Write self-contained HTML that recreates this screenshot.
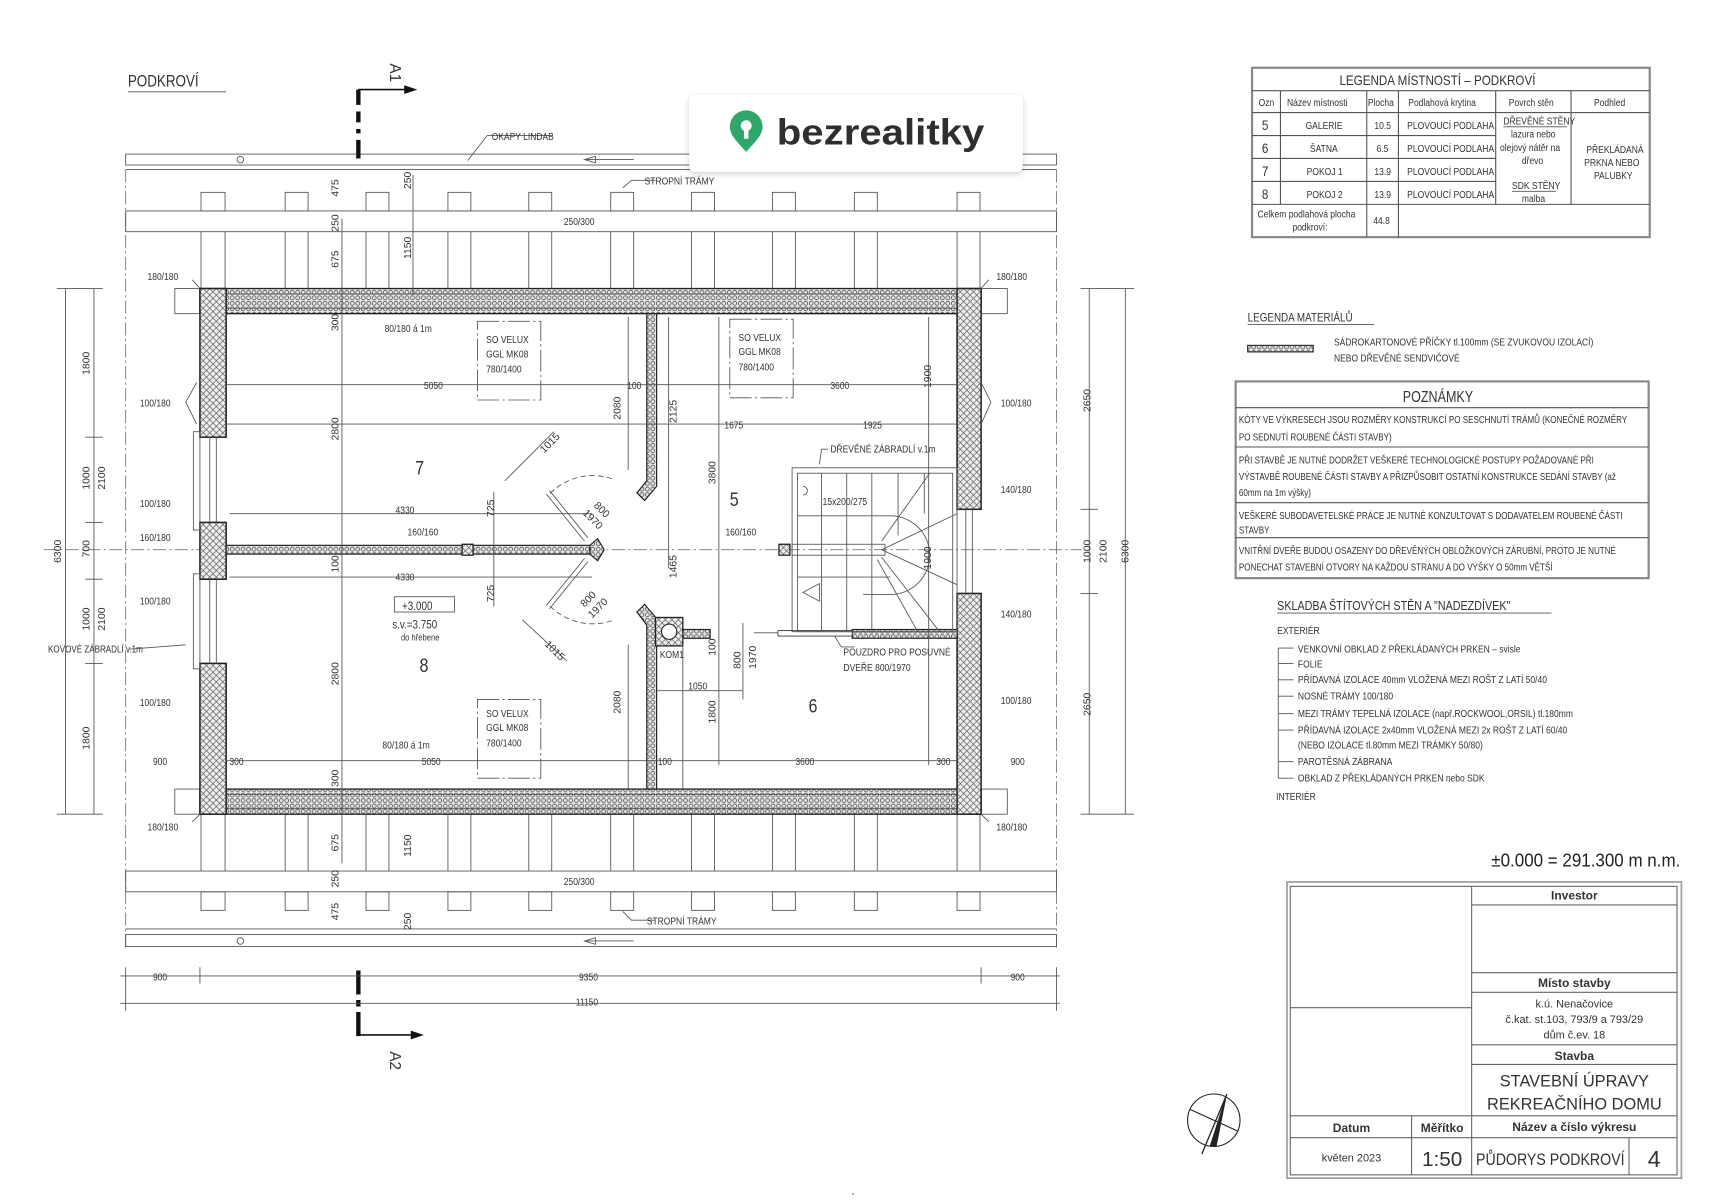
<!DOCTYPE html>
<html><head><meta charset="utf-8"><style>
html,body{margin:0;padding:0;background:#fff;width:1712px;height:1200px;overflow:hidden}
svg{display:block}
text{font-family:"Liberation Sans Narrow","Liberation Sans",sans-serif;fill:#333}
text:not([transform]):not(.w){transform-box:fill-box;transform-origin:left center;transform:scaleX(.82)}
.s{font-size:9.5px}
.m{font-size:11px}
.ln{stroke:#555;stroke-width:0.8;fill:none}
.dash{stroke:#777;stroke-width:0.8;stroke-dasharray:12 3 2 3;fill:none}
</style></head><body>
<svg width="1712" height="1200" viewBox="0 0 1567 1098" preserveAspectRatio="none" xmlns="http://www.w3.org/2000/svg">
<defs>
<pattern id="hp" width="5" height="5" patternUnits="userSpaceOnUse"><rect width="5" height="5" fill="#e6e6e6"/><circle cx="2.5" cy="2.5" r="1.8" fill="none" stroke="#444" stroke-width="0.7"/></pattern>
<pattern id="hx" width="6" height="6" patternUnits="userSpaceOnUse"><rect width="6" height="6" fill="#eee"/><path d="M0 0L6 6M6 0L0 6" stroke="#555" stroke-width="0.6"/></pattern>
<filter id="sh" x="-10%" y="-20%" width="120%" height="150%"><feDropShadow dx="0" dy="2" stdDeviation="3" flood-color="#000" flood-opacity="0.18"/></filter>
</defs>
<rect width="1567" height="1098" fill="#fff"/>

<text x="117" y="79" style="font-size:15px">PODKROVÍ</text>
<line x1="117" y1="84" x2="207" y2="84" class="ln"/>

<rect x="115" y="141" width="852" height="10" class="ln"/>
<circle cx="220" cy="146" r="3" class="ln"/>
<path d="M535 146H580M535 146l10 -3v6z" class="ln"/>
<path d="M428 147L446 124H505" class="ln"/>
<text x="450" y="128" class="s">OKAPY LINDAB</text>
<line x1="115" y1="155" x2="967" y2="155" class="ln"/>
<line x1="115" y1="155" x2="115" y2="870" class="dash"/>
<line x1="967" y1="155" x2="967" y2="870" class="dash"/>
<g class="ln">
<rect x="184" y="176" width="22" height="17"/><rect x="261" y="176" width="21" height="17"/><rect x="335" y="176" width="21" height="17"/><rect x="410" y="176" width="21" height="17"/><rect x="484" y="176" width="21" height="17"/><rect x="559" y="176" width="21" height="17"/><rect x="633" y="176" width="21" height="17"/><rect x="707" y="176" width="21" height="17"/><rect x="782" y="176" width="21" height="17"/><rect x="876" y="176" width="21" height="17"/>
<rect x="115" y="193" width="852" height="19"/>
<path d="M184 212V264M206 212V264M261 212V264M282 212V264M335 212V264M356 212V264M410 212V264M431 212V264M484 212V264M505 212V264M559 212V264M580 212V264M633 212V264M654 212V264M707 212V264M728 212V264M782 212V264M803 212V264M876 212V264M897 212V264"/>
<path d="M184 745V797M206 745V797M261 745V797M282 745V797M335 745V797M356 745V797M410 745V797M431 745V797M484 745V797M505 745V797M559 745V797M580 745V797M633 745V797M654 745V797M707 745V797M728 745V797M782 745V797M803 745V797M876 745V797M897 745V797"/>
<rect x="115" y="797" width="852" height="19"/>
<rect x="184" y="816" width="22" height="17"/><rect x="261" y="816" width="21" height="17"/><rect x="335" y="816" width="21" height="17"/><rect x="410" y="816" width="21" height="17"/><rect x="484" y="816" width="21" height="17"/><rect x="559" y="816" width="21" height="17"/><rect x="633" y="816" width="21" height="17"/><rect x="707" y="816" width="21" height="17"/><rect x="782" y="816" width="21" height="17"/><rect x="876" y="816" width="21" height="17"/>
<line x1="115" y1="850" x2="967" y2="850"/>
<rect x="115" y="855" width="852" height="11"/>
<circle cx="220" cy="861" r="3"/>
<path d="M535 861H580M535 861l10 -3v6z"/>
<path d="M570 172L578 165H600M570 834L578 842H600"/>
</g>
<text x="516" y="206" class="s">250/300</text>
<text x="516" y="810" class="s">250/300</text>
<text x="590" y="169" class="s">STROPNÍ TRÁMY</text>
<text x="592" y="846" class="s">STROPNÍ TRÁMY</text>

<path d="M328 82V96M328 102V112M328 118V122M328 128V145" stroke="#111" stroke-width="4"/>
<path d="M328 82H372" stroke="#111" stroke-width="1.5"/><path d="M382 82l-12 -4v8z" fill="#111"/>
<text x="357" y="58" transform="rotate(90 357 58)" style="font-size:14px">A1</text>
<path d="M328 888V910M328 915V921M328 926V948" stroke="#111" stroke-width="4"/>
<path d="M328 947H378" stroke="#111" stroke-width="1.5"/><path d="M388 947l-12 -4v8z" fill="#111"/>
<text x="357" y="962" transform="rotate(90 357 962)" style="font-size:14px">A2</text>

<line x1="40" y1="503" x2="990" y2="503" class="dash"/>

<rect x="160" y="264" width="23" height="23" class="ln" fill="#fff"/>
<rect x="898" y="264" width="24" height="23" class="ln" fill="#fff"/>
<rect x="160" y="722" width="23" height="23" class="ln" fill="#fff"/>
<rect x="898" y="722" width="24" height="23" class="ln" fill="#fff"/>
<rect x="183" y="264" width="715" height="23" fill="url(#hp)" stroke="#222" stroke-width="1.2"/>
<rect x="183" y="722" width="715" height="23" fill="url(#hp)" stroke="#222" stroke-width="1.2"/>
<line x1="183" y1="269" x2="898" y2="269" stroke="#333" stroke-width="0.6"/><line x1="183" y1="282" x2="898" y2="282" stroke="#333" stroke-width="0.6"/>
<line x1="183" y1="727" x2="898" y2="727" stroke="#333" stroke-width="0.6"/><line x1="183" y1="740" x2="898" y2="740" stroke="#333" stroke-width="0.6"/>
<g fill="url(#hx)" stroke="#222" stroke-width="1.4">
<rect x="183" y="264" width="24" height="136"/><rect x="183" y="478" width="24" height="52"/><rect x="183" y="607" width="24" height="138"/>
<rect x="876" y="264" width="22" height="202"/><rect x="876" y="543" width="22" height="202"/>
</g>
<g class="ln">
<rect x="177" y="395" width="6" height="90"/><rect x="177" y="525" width="6" height="87"/>
<line x1="192" y1="400" x2="192" y2="478"/><line x1="198" y1="400" x2="198" y2="478"/>
<line x1="192" y1="530" x2="192" y2="607"/><line x1="198" y1="530" x2="198" y2="607"/>
<line x1="884" y1="466" x2="884" y2="543"/><line x1="890" y1="466" x2="890" y2="543"/>
</g>
<g fill="url(#hp)" stroke="#222" stroke-width="1.1">
<rect x="207" y="499" width="333" height="8"/>
<path d="M592 287H601V445L590 458L583 451L592 440Z"/>
<path d="M583 560L590 553L601 566V722H592V572Z"/>
<rect x="625" y="576" width="25" height="8"/>
<rect x="780" y="576" width="96" height="8"/>
<path d="M540 499L547 493L553 503L547 513L540 507Z"/>
</g>
<rect x="600" y="565" width="25" height="26" fill="url(#hx)" stroke="#222" stroke-width="1.2"/>
<circle cx="612.5" cy="578" r="7" fill="#fff" stroke="#222"/>
<rect x="423" y="498" width="10" height="10" fill="url(#hx)" stroke="#222" stroke-width="1.2"/>
<rect x="713" y="498" width="10" height="10" fill="url(#hx)" stroke="#222" stroke-width="1.2"/>
<rect x="712" y="577" width="68" height="5" fill="#fff" stroke="#333" stroke-width="0.8"/>
<line x1="690" y1="579" x2="712" y2="579" class="ln"/>
<g class="ln" stroke-dasharray="5 3">
<path d="M560 438 A55 55 0 0 0 503 452"/>
<path d="M560 568 A55 55 0 0 1 503 554"/>
</g>
<g class="ln">
<path d="M503 449L538 492M500 452L535 495"/>
<path d="M503 557L538 514M500 554L535 511"/>
</g>
<g class="ln">
<rect x="725" y="428" width="151" height="150"/>
<rect x="730" y="433" width="142" height="145"/>
<path d="M752 433V578M775 433V578M798 433V578M822 433V490M846 433V470"/>
<path d="M730 472H815M730 528H815"/>
<path d="M815 472A36 36 0 0 1 815 544H790"/>
<path d="M807 495L851 433M807 503L876 470M807 503L876 535M807 510L860 578M803 512L840 578"/>
<rect x="725" y="498" width="85" height="10"/>
<path d="M735 542L750 534V550Z"/>
<path d="M735 445A4 4 0 0 1 735 453"/>
</g>
<path d="M750 425L752 411H758" class="ln"/>
<text x="760" y="414" class="s">DŘEVĚNÉ ZÁBRADLÍ v.1m</text>
<text x="753" y="462" class="s">15x200/275</text>
<path d="M764 582L770 592H782" class="ln"/>
<text x="772" y="600" class="s">POUZDRO PRO POSUVNÉ</text>
<text x="772" y="614" class="s">DVEŘE 800/1970</text>

<g class="ln" stroke-dasharray="20 3 2 3">
<rect x="437" y="294" width="58" height="72"/>
<rect x="668" y="292" width="58" height="72"/>
<rect x="437" y="640" width="58" height="72"/>
</g>
<text x="445" y="314" class="s">SO VELUX</text><text x="445" y="327" class="s">GGL MK08</text><text x="445" y="341" class="s">780/1400</text>
<text x="676" y="312" class="s">SO VELUX</text><text x="676" y="325" class="s">GGL MK08</text><text x="676" y="339" class="s">780/1400</text>
<text x="445" y="656" class="s">SO VELUX</text><text x="445" y="669" class="s">GGL MK08</text><text x="445" y="683" class="s">780/1400</text>

<g class="ln">
<path d="M207 352H876M207 388H876M210 470H542M210 528H542M207 696H876M601 632H680"/>
<path d="M313 200V790M378 160V270M452 450V555M612 290V520M658 290V700M850 290V700M680 570V640M625 590V722M575 290V430M575 590V722"/>
<path d="M462 440L507 395M478 567L519 605"/>
</g>
<text x="380" y="434" style="font-size:18px">7</text>
<text x="384" y="615" style="font-size:18px">8</text>
<text x="668" y="463" style="font-size:18px">5</text>
<text x="740" y="652" style="font-size:18px">6</text>
<rect x="361" y="546" width="55" height="14" class="ln"/>
<text x="368" y="558" class="m">+3.000</text>
<text x="359" y="575" class="m">s.v.=3.750</text>
<text x="367" y="586" style="font-size:8.5px">do hřebene</text>
<text x="604" y="602" class="s">KOM1</text>
<text x="44" y="597" style="font-size:9px">KOVOVÉ ZÁBRADLÍ v.1m</text>
<line x1="118" y1="594" x2="170" y2="590" class="ln"/>
<g class="s">
<text x="388" y="356">5050</text><text x="760" y="356">3600</text><text x="574" y="356">100</text>
<text x="663" y="392">1675</text><text x="790" y="392">1925</text>
<text x="362" y="470">4330</text><text x="362" y="531">4330</text>
<text x="386" y="700">5050</text><text x="728" y="700">3600</text><text x="602" y="700">100</text>
<text x="140" y="700">900</text><text x="210" y="700">300</text><text x="857" y="700">300</text><text x="925" y="700">900</text>
<text x="630" y="631">1050</text>
<text x="373" y="490">160/160</text><text x="664" y="490">160/160</text>
<text x="352" y="304">80/180 á 1m</text><text x="350" y="685">80/180 á 1m</text>
<text x="135" y="256">180/180</text><text x="912" y="256">180/180</text>
<text x="135" y="760">180/180</text><text x="912" y="760">180/180</text>
<text x="128" y="372">100/180</text><text x="916" y="372">100/180</text>
<text x="128" y="464">100/180</text><text x="916" y="451">140/180</text>
<text x="128" y="495">160/180</text><text x="916" y="565">140/180</text>
<text x="128" y="553">100/180</text><text x="916" y="644">100/180</text>
<text x="128" y="646">100/180</text>
<text x="140" y="897">900</text><text x="530" y="897">9350</text><text x="925" y="897">900</text>
<text x="527" y="920">11150</text>
</g>
<g class="s">
<text transform="translate(310,180) rotate(-90)">475</text>
<text transform="translate(310,212) rotate(-90)">250</text>
<text transform="translate(310,245) rotate(-90)">675</text>
<text transform="translate(310,303) rotate(-90)">300</text>
<text transform="translate(310,403) rotate(-90)">2800</text>
<text transform="translate(310,524) rotate(-90)">100</text>
<text transform="translate(310,627) rotate(-90)">2800</text>
<text transform="translate(310,720) rotate(-90)">300</text>
<text transform="translate(310,779) rotate(-90)">675</text>
<text transform="translate(310,812) rotate(-90)">250</text>
<text transform="translate(310,842) rotate(-90)">475</text>
<text transform="translate(376,173) rotate(-90)">250</text>
<text transform="translate(376,237) rotate(-90)">1150</text>
<text transform="translate(376,784) rotate(-90)">1150</text>
<text transform="translate(376,851) rotate(-90)">250</text>
<text transform="translate(452,473) rotate(-90)">725</text>
<text transform="translate(452,551) rotate(-90)">725</text>
<text transform="translate(568,384) rotate(-90)">2080</text>
<text transform="translate(568,653) rotate(-90)">2080</text>
<text transform="translate(619,387) rotate(-90)">2125</text>
<text transform="translate(619,529) rotate(-90)">1465</text>
<text transform="translate(655,443) rotate(-90)">3800</text>
<text transform="translate(655,662) rotate(-90)">1800</text>
<text transform="translate(852,355) rotate(-90)">1900</text>
<text transform="translate(852,521) rotate(-90)">1900</text>
<text transform="translate(655,600) rotate(-90)">100</text>
<text transform="translate(678,612) rotate(-90)">800</text>
<text transform="translate(692,612) rotate(-90)">1970</text>
<text transform="translate(82,343) rotate(-90)">1800</text>
<text transform="translate(82,448) rotate(-90)">1000</text>
<text transform="translate(96,448) rotate(-90)">2100</text>
<text transform="translate(82,510) rotate(-90)">700</text>
<text transform="translate(82,577) rotate(-90)">1000</text>
<text transform="translate(96,577) rotate(-90)">2100</text>
<text transform="translate(82,686) rotate(-90)">1800</text>
<text transform="translate(56,515) rotate(-90)">6300</text>
<text transform="translate(998,377) rotate(-90)">2650</text>
<text transform="translate(998,515) rotate(-90)">1000</text>
<text transform="translate(1013,515) rotate(-90)">2100</text>
<text transform="translate(998,655) rotate(-90)">2650</text>
<text transform="translate(1033,515) rotate(-90)">6300</text>
<text transform="translate(498,415) rotate(-45)">1015</text>
<text transform="translate(543,463) rotate(45)">800</text>
<text transform="translate(533,470) rotate(45)">1970</text>
<text transform="translate(535,556) rotate(-45)">800</text>
<text transform="translate(542,566) rotate(-45)">1970</text>
<text transform="translate(498,590) rotate(45)">1015</text>
</g>
<g class="ln">
<path d="M60 264V745M86 264V745M997 264V745M1030 264V745"/>
<path d="M52 264H94M52 745H94M78 400H94M78 478H94M78 530H94M78 607H94M989 264H1038M989 745H1038M989 466H1005M989 543H1005"/>
<path d="M110 893H970M110 918H970M115 885V925M183 885V900M898 885V900M967 885V925"/>
<path d="M176 256L183 264M898 264L905 256M176 752L183 745M898 745L905 752"/>
<path d="M170 368L180 350M170 368L180 388M907 368L898 350M907 368L898 388"/>
</g>

<rect x="631" y="87" width="305" height="70" rx="4" fill="#fff" filter="url(#sh)"/>
<path d="M683 139C676 131 668 124 668 116A15 15 0 0 1 698 116C698 124 690 131 683 139Z" fill="#2fa66a"/>
<circle cx="683" cy="115" r="5" fill="#fff"/>
<rect x="681" y="115" width="4" height="12" fill="#fff"/>
<text class="w" x="711" y="132" style="font-family:'Liberation Sans',sans-serif;font-size:33px;font-weight:bold;fill:#2e2e2e" textLength="190" lengthAdjust="spacingAndGlyphs">bezrealitky</text>

<g stroke="#555" stroke-width="1" fill="none">
<rect x="1146" y="62" width="364" height="155" stroke-width="2" stroke="#888"/>
<path d="M1146 83H1510M1146 103H1510M1146 124H1369M1146 145H1369M1146 166H1369M1146 187H1510"/>
<path d="M1172 83V187M1251 83V217M1280 83V217M1369 83V187M1438 83V187"/>
</g>
<text x="1226" y="78" style="font-size:13px">LEGENDA MÍSTNOSTÍ – PODKROVÍ</text>
<g class="s">
<text x="1152" y="97">Ozn</text><text x="1178" y="97">Název místnosti</text><text x="1252" y="97">Plocha</text><text x="1289" y="97">Podlahová krytina</text><text x="1381" y="97">Povrch stěn</text><text x="1459" y="97">Podhled</text>
<text x="1195" y="118">GALERIE</text><text x="1199" y="139">ŠATNA</text><text x="1196" y="160">POKOJ 1</text><text x="1196" y="181">POKOJ 2</text>
<text x="1258" y="118">10.5</text><text x="1260" y="139">6.5</text><text x="1258" y="160">13.9</text><text x="1258" y="181">13.9</text>
<text x="1288" y="118">PLOVOUCÍ PODLAHA</text><text x="1288" y="139">PLOVOUCÍ PODLAHA</text><text x="1288" y="160">PLOVOUCÍ PODLAHA</text><text x="1288" y="181">PLOVOUCÍ PODLAHA</text>
<text x="1376" y="114">DŘEVĚNÉ STĚNY</text><text x="1383" y="126">lazura nebo</text><text x="1373" y="138">olejový nátěr na</text><text x="1393" y="150">dřevo</text>
<text x="1384" y="173">SDK STĚNY</text><text x="1393" y="185">malba</text>
<text x="1452" y="140">PŘEKLÁDANÁ</text><text x="1450" y="152">PRKNA NEBO</text><text x="1459" y="164">PALUBKY</text>
<text x="1151" y="199">Celkem podlahová plocha</text><text x="1183" y="211">podkroví:</text><text x="1257" y="205">44.8</text>
</g>
<g style="font-size:13px"><text x="1155" y="119">5</text><text x="1155" y="140">6</text><text x="1155" y="161">7</text><text x="1155" y="182">8</text></g>
<path d="M1376 116H1434M1384 175H1424" class="ln"/>

<text x="1142" y="294" class="m">LEGENDA MATERIÁLŮ</text>
<line x1="1142" y1="297" x2="1258" y2="297" class="ln"/>
<rect x="1142" y="316" width="60" height="6" fill="url(#hp)" stroke="#222"/>
<text x="1221" y="316" class="s">SÁDROKARTONOVÉ PŘÍČKY tl.100mm (SE ZVUKOVOU IZOLACÍ)</text>
<text x="1221" y="331" class="s">NEBO DŘEVĚNÉ SENDVIČOVÉ</text>

<g stroke="#555" fill="none"><rect x="1131" y="349" width="378" height="180" stroke="#888" stroke-width="2"/>
<path d="M1131 373H1509M1131 409H1509M1131 460H1509M1131 492H1509"/></g>
<text x="1284" y="368" style="font-size:14px">POZNÁMKY</text>
<g style="font-size:9px">
<text x="1134" y="387">KÓTY VE VÝKRESECH JSOU ROZMĚRY KONSTRUKCÍ PO SESCHNUTÍ TRÁMŮ (KONEČNÉ ROZMĚRY</text>
<text x="1134" y="403">PO SEDNUTÍ ROUBENÉ ČÁSTI STAVBY)</text>
<text x="1134" y="424">PŘI STAVBĚ JE NUTNÉ DODRŽET VEŠKERÉ TECHNOLOGICKÉ POSTUPY POŽADOVANÉ PŘI</text>
<text x="1134" y="439">VÝSTAVBĚ ROUBENÉ ČÁSTI STAVBY A PŘIZPŮSOBIT OSTATNÍ KONSTRUKCE SEDÁNÍ STAVBY (až</text>
<text x="1134" y="454">60mm na 1m výšky)</text>
<text x="1134" y="475">VEŠKERÉ SUBODAVETELSKÉ PRÁCE JE NUTNÉ KONZULTOVAT S DODAVATELEM ROUBENÉ ČÁSTI</text>
<text x="1134" y="488">STAVBY</text>
<text x="1134" y="507">VNITŘNÍ DVEŘE BUDOU OSAZENY DO DŘEVĚNÝCH OBLOŽKOVÝCH ZÁRUBNÍ, PROTO JE NUTNÉ</text>
<text x="1134" y="522">PONECHAT STAVEBNÍ OTVORY NA KAŽDOU STRANU A DO VÝŠKY O 50mm VĚTŠÍ</text>
</g>

<text x="1169" y="558" style="font-size:12px">SKLADBA ŠTÍTOVÝCH STĚN A "NADEZDÍVEK"</text>
<line x1="1169" y1="561" x2="1420" y2="561" class="ln"/>
<g style="font-size:9.5px">
<text x="1169" y="580">EXTERIÉR</text>
<text x="1188" y="597">VENKOVNÍ OBKLAD Z PŘEKLÁDANÝCH PRKEN – svisle</text>
<text x="1188" y="611">FOLIE</text>
<text x="1188" y="625">PŘÍDAVNÁ IZOLACE 40mm VLOŽENÁ MEZI ROŠT Z LATÍ 50/40</text>
<text x="1188" y="640">NOSNÉ TRÁMY 100/180</text>
<text x="1188" y="656">MEZI TRÁMY TEPELNÁ IZOLACE (např.ROCKWOOL,ORSIL) tl.180mm</text>
<text x="1188" y="671">PŘÍDAVNÁ IZOLACE 2x40mm VLOŽENÁ MEZI 2x ROŠT Z LATÍ 60/40</text>
<text x="1188" y="685">(NEBO IZOLACE tl.80mm MEZI TRÁMKY 50/80)</text>
<text x="1188" y="700">PAROTĚSNÁ ZÁBRANA</text>
<text x="1188" y="715">OBKLAD Z PŘEKLÁDANÝCH PRKEN nebo SDK</text>
<text x="1168" y="732">INTERIÉR</text>
</g>
<path d="M1170 593V712M1170 593H1184M1170 607H1184M1170 622H1184M1170 637H1184M1170 653H1184M1170 668H1184M1170 697H1184M1170 712H1184" class="ln"/>

<text class="w" x="1365" y="793" style="font-family:'Liberation Sans',sans-serif;font-size:17px;fill:#222" textLength="173" lengthAdjust="spacingAndGlyphs">±0.000 = 291.300 m n.m.</text>

<g fill="none" stroke="#666">
<rect x="1178" y="807" width="361" height="271" stroke="#999" stroke-width="1.5"/>
<rect x="1181" y="811" width="354" height="264"/>
<path d="M1347 811V1075M1347 828H1535M1347 890H1535M1347 908H1535M1347 956H1535M1347 974H1535M1181 922H1347M1181 1021H1535M1181 1041H1535M1292 1021V1075M1491 1041V1075"/>
</g>
<g style="font-family:'Liberation Sans',sans-serif;fill:#222">
<text class="w" x="1441" y="823" text-anchor="middle" style="font-size:11px;font-weight:bold">Investor</text>
<text class="w" x="1441" y="903" text-anchor="middle" style="font-size:11px;font-weight:bold">Místo stavby</text>
<text class="w" x="1441" y="922" text-anchor="middle" style="font-size:10px">k.ú. Nenačovice</text>
<text class="w" x="1441" y="936" text-anchor="middle" style="font-size:10px">č.kat. st.103, 793/9 a 793/29</text>
<text class="w" x="1441" y="950" text-anchor="middle" style="font-size:10px">dům č.ev. 18</text>
<text class="w" x="1441" y="970" text-anchor="middle" style="font-size:11px;font-weight:bold">Stavba</text>
<text class="w" x="1441" y="994" text-anchor="middle" style="font-size:15px">STAVEBNÍ ÚPRAVY</text>
<text class="w" x="1441" y="1015" text-anchor="middle" style="font-size:15px">REKREAČNÍHO DOMU</text>
<text class="w" x="1237" y="1036" text-anchor="middle" style="font-size:11px;font-weight:bold">Datum</text>
<text class="w" x="1320" y="1036" text-anchor="middle" style="font-size:11px;font-weight:bold">Měřítko</text>
<text class="w" x="1441" y="1035" text-anchor="middle" style="font-size:11px;font-weight:bold">Název a číslo výkresu</text>
<text class="w" x="1237" y="1063" text-anchor="middle" style="font-size:10px">květen 2023</text>
<text class="w" x="1320" y="1067" text-anchor="middle" style="font-size:19px">1:50</text>
<text class="w" x="1351" y="1066" style="font-size:15px" textLength="136" lengthAdjust="spacingAndGlyphs">PŮDORYS PODKROVÍ</text>
<text class="w" x="1514" y="1068" text-anchor="middle" style="font-size:21px">4</text>
</g>

<g stroke="#222" fill="none">
<circle cx="1111" cy="1025" r="24"/>
<path d="M1123 1001L1100 1056" stroke-width="1.2"/>
<path d="M1122 1004L1108 1048L1113 1049Z" fill="#222"/>
<path d="M1089 1015L1133 1035"/>
</g>
<text x="780" y="1098" class="s">'</text>
</svg>
</body></html>
